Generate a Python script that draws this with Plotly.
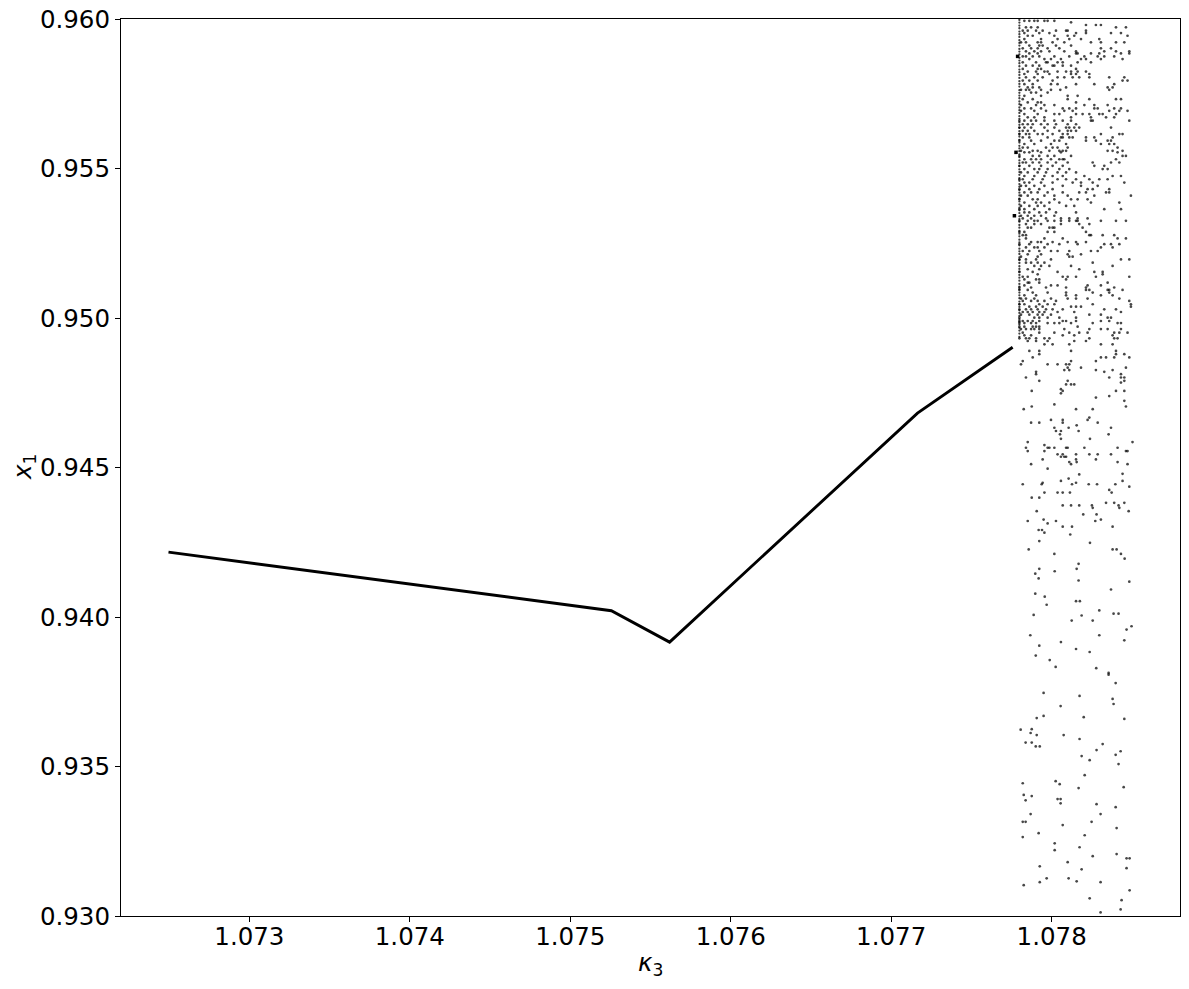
import plotly.graph_objects as go

# ---- main branch (period-1 curve) ----
kappa_line = [1.072496, 1.075256, 1.075619, 1.077164, 1.077757]
x1_line = [0.94217, 0.94021, 0.93916, 0.94682, 0.94902]

# ---- dense left edge column of the chaotic region ----
edge_kappa = 1.077799
edge_x1 = [0.95997, 0.95988, 0.95978, 0.95969, 0.95958, 0.95949, 0.95940, 0.95929, 0.95920, 0.95911,
           0.95900, 0.95891, 0.95882, 0.95870, 0.95861, 0.95852, 0.95842, 0.95831, 0.95822, 0.95813,
           0.95803, 0.95792, 0.95783, 0.95774, 0.95762, 0.95753, 0.95744, 0.95735, 0.95724, 0.95715,
           0.95704, 0.95695, 0.95686, 0.95675, 0.95666, 0.95655, 0.95646, 0.95636, 0.95625, 0.95616,
           0.95607, 0.95596, 0.95587, 0.95576, 0.95567, 0.95558, 0.95547, 0.95538, 0.95527, 0.95518,
           0.95508, 0.95497, 0.95488, 0.95479, 0.95468, 0.95459, 0.95448, 0.95439, 0.95428, 0.95419,
           0.95410, 0.95399, 0.95390, 0.95380, 0.95369, 0.95360, 0.95351, 0.95340, 0.95331, 0.95322,
           0.95311, 0.95302, 0.95291, 0.95282, 0.95273, 0.95262, 0.95253, 0.95243, 0.95232, 0.95223,
           0.95214, 0.95203, 0.95194, 0.95184, 0.95173, 0.95164, 0.95155, 0.95144, 0.95135, 0.95125,
           0.95114, 0.95105, 0.95096, 0.95085, 0.95076, 0.95066, 0.95055, 0.95046, 0.95037, 0.95026,
           0.95017, 0.95007, 0.94996, 0.94987, 0.94978, 0.94967, 0.94958, 0.94948, 0.94937]

# ---- heavier overlapping points near the edge ----
blob_kappa = [1.077788, 1.077778, 1.077768]
blob_x1 = [0.95875, 0.95554, 0.95342]

# ---- chaotic points, rows of (x1, [kappa values]) ----
chaos_rows_a = [
    (0.95994, [1.077830, 1.077861, 1.077892, 1.077913, 1.077955, 1.077975, 1.078017]),
    (0.95989, [1.078121]),
    (0.95980, [1.078214, 1.078276, 1.078307]),
    (0.95972, [1.077840, 1.077872, 1.077913, 1.078401, 1.078463]),
    (0.95961, [1.077820, 1.077851, 1.077903, 1.077944, 1.078027, 1.078090, 1.078100, 1.078214]),
    (0.95953, [1.077830, 1.077923, 1.077986, 1.078152, 1.078214, 1.078370, 1.078432]),
    (0.95944, [1.077851, 1.077882, 1.078017, 1.078100, 1.078141, 1.078473]),
    (0.95933, [1.077830, 1.077934, 1.078037, 1.078110, 1.078183, 1.078297]),
    (0.95922, [1.077809, 1.077840, 1.077913, 1.077934, 1.078006, 1.078079, 1.078245, 1.078307, 1.078401, 1.078453]),
    (0.95911, [1.077861, 1.077923, 1.077944, 1.078027, 1.078121]),
    (0.95902, [1.077820, 1.077872, 1.077913, 1.077975, 1.078048, 1.078307, 1.078370]),
    (0.95892, [1.077840, 1.077892, 1.077934, 1.077986, 1.078079, 1.078152, 1.078328, 1.078401, 1.078484]),
    (0.95885, [1.077861, 1.077913, 1.078152, 1.078162, 1.078245, 1.078297, 1.078432, 1.078484]),
    (0.95875, [1.077820, 1.077840, 1.077882, 1.077923, 1.078017, 1.078110, 1.078204, 1.078287, 1.078328, 1.078390]),
    (0.95866, [1.077861, 1.077955, 1.077996, 1.078058, 1.078183, 1.078214, 1.078307, 1.078442]),
    (0.95855, [1.077820, 1.077903, 1.077965, 1.077975, 1.078037, 1.078069, 1.078162, 1.078245]),
    (0.95844, [1.077840, 1.077882, 1.077923, 1.078006, 1.078017, 1.078069, 1.078121]),
    (0.95833, [1.077820, 1.077913, 1.077934, 1.078152]),
    (0.95824, [1.077851, 1.077903, 1.077955, 1.077975, 1.078037, 1.078090, 1.078121, 1.078162, 1.078214]),
    (0.95816, [1.077830, 1.077913, 1.077986, 1.078121, 1.078152, 1.078235]),
    (0.95805, [1.077840, 1.077892, 1.077944, 1.078037, 1.078079, 1.078131, 1.078172, 1.078235, 1.078359, 1.078453]),
    (0.95794, [1.077820, 1.077861, 1.077913, 1.078006, 1.078442, 1.078473]),
    (0.95782, [1.077830, 1.077882, 1.077996, 1.078037, 1.078152, 1.078266, 1.078390]),
    (0.95771, [1.077851, 1.077882, 1.077923, 1.078090, 1.078349, 1.078380]),
    (0.95763, [1.077809, 1.077840, 1.077861, 1.077934, 1.077996, 1.078054, 1.078359]),
    (0.95754, [1.077872, 1.077903, 1.077975]),
    (0.95743, [1.077830, 1.077934, 1.078100, 1.078162]),
    (0.95732, [1.077820, 1.077882, 1.078100, 1.078235, 1.078401, 1.078432]),
    (0.95721, [1.077851, 1.077913, 1.077934, 1.078152]),
    (0.95712, [1.077809, 1.077903, 1.077955, 1.078017, 1.078204, 1.078266, 1.078349]),
    (0.95701, [1.077830, 1.077872, 1.077934, 1.078069, 1.078110, 1.078152, 1.078266, 1.078287, 1.078390, 1.078432]),
    (0.95693, [1.077809, 1.077892, 1.077965, 1.078079, 1.078131, 1.078359, 1.078422, 1.078473]),
    (0.95682, [1.077830, 1.077913, 1.078017, 1.078048, 1.078152, 1.078193, 1.078235, 1.078297, 1.078318, 1.078401]),
    (0.95671, [1.077851, 1.077892, 1.077955, 1.078121, 1.078245, 1.078339, 1.078390]),
]

chaos_rows_b = [
    (0.95660, [1.077799, 1.077830, 1.077872, 1.077903, 1.077955, 1.078017, 1.078069, 1.078121, 1.078245, 1.078256, 1.078484]),
    (0.95648, [1.077820, 1.077851, 1.077882, 1.077934, 1.077975, 1.078027, 1.078100, 1.078152]),
    (0.95637, [1.077799, 1.077830, 1.077872, 1.077955, 1.078017, 1.078090, 1.078110, 1.078141, 1.078172, 1.078370]),
    (0.95626, [1.077820, 1.077851, 1.077892, 1.077975, 1.078048, 1.078100, 1.078121, 1.078152]),
    (0.95615, [1.077799, 1.077840, 1.077861, 1.077913, 1.077944, 1.078006, 1.078069, 1.078100, 1.078307, 1.078422, 1.078442]),
    (0.95604, [1.077820, 1.077861, 1.077975, 1.078058, 1.078069, 1.078110, 1.078131, 1.078214, 1.078266, 1.078380]),
    (0.95593, [1.077799, 1.077872, 1.077934, 1.078017, 1.078048, 1.078214, 1.078276, 1.078349, 1.078370]),
    (0.95582, [1.077830, 1.077892, 1.077996, 1.078090, 1.078307, 1.078359, 1.078390]),
    (0.95570, [1.077820, 1.077851, 1.077965, 1.078006, 1.078037, 1.078100, 1.078411]),
    (0.95559, [1.077809, 1.077882, 1.077913, 1.077986, 1.078048, 1.078069, 1.078090, 1.078349, 1.078380, 1.078442]),
    (0.95554, [1.077830, 1.077861, 1.077934, 1.078058, 1.078411]),
    (0.95542, [1.077799, 1.077882, 1.077923, 1.077975, 1.078017, 1.078121, 1.078442, 1.078463]),
    (0.95531, [1.077830, 1.077872, 1.077903, 1.077934, 1.077996, 1.078048, 1.078069, 1.078079, 1.078401]),
    (0.95520, [1.077820, 1.077840, 1.077882, 1.077923, 1.077975, 1.078027, 1.078100, 1.078256, 1.078370, 1.078422]),
    (0.95509, [1.077799, 1.077861, 1.077934, 1.078006, 1.078069, 1.078266, 1.078328]),
    (0.95498, [1.077830, 1.077892, 1.077923, 1.077975, 1.078048, 1.078110, 1.078318, 1.078349]),
    (0.95487, [1.077809, 1.077851, 1.077913, 1.077965, 1.078037, 1.078090, 1.078152]),
    (0.95475, [1.077830, 1.077892, 1.077955, 1.078006, 1.078069, 1.078204, 1.078380, 1.078432]),
    (0.95464, [1.077799, 1.077820, 1.077882, 1.077944, 1.078037, 1.078090, 1.078152, 1.078235, 1.078297, 1.078349]),
    (0.95453, [1.077830, 1.077861, 1.077934, 1.078006, 1.078131, 1.078183, 1.078256, 1.078453]),
    (0.95442, [1.077809, 1.077840, 1.077892, 1.077955, 1.078069, 1.078183, 1.078287]),
    (0.95431, [1.077799, 1.077861, 1.077923, 1.078006, 1.078224, 1.078256, 1.078359]),
    (0.95420, [1.077830, 1.077872, 1.077913, 1.077975, 1.078069, 1.078172, 1.078214, 1.078339, 1.078359]),
    (0.95409, [1.077809, 1.077851, 1.077955, 1.078017, 1.078100, 1.078266, 1.078494]),
    (0.95397, [1.077799, 1.077882, 1.077913, 1.078017, 1.078121, 1.078162, 1.078224]),
    (0.95386, [1.077830, 1.077903, 1.077934, 1.077986, 1.078048, 1.078245, 1.078422]),
    (0.95375, [1.077809, 1.077861, 1.077913, 1.077955, 1.078090, 1.078141]),
    (0.95364, [1.077799, 1.077830, 1.077892, 1.077986, 1.078328, 1.078432]),
    (0.95353, [1.077830, 1.077861, 1.077923, 1.077965, 1.078027, 1.078152]),
    (0.95342, [1.077809, 1.077851, 1.077892, 1.077934, 1.078017]),
    (0.95333, [1.077820, 1.077872, 1.077965, 1.078058, 1.078110, 1.078162, 1.078224]),
]

chaos_rows_c = [
    (0.95325, [1.077799, 1.077851, 1.077892, 1.077913, 1.077975, 1.078017, 1.078058, 1.078110, 1.078152, 1.078162, 1.078307, 1.078401, 1.078463]),
    (0.95314, [1.077840, 1.077892, 1.077934, 1.078058, 1.078172, 1.078235]),
    (0.95302, [1.077851, 1.077872, 1.077986, 1.078006, 1.078017, 1.078193]),
    (0.95288, [1.077799, 1.077830, 1.077975, 1.078017, 1.078214]),
    (0.95277, [1.077820, 1.077840, 1.078235, 1.078245, 1.078318, 1.078390]),
    (0.95266, [1.077840, 1.077955, 1.078069, 1.078411, 1.078463]),
    (0.95254, [1.077872, 1.077913, 1.077934, 1.078006, 1.078100, 1.078152, 1.078214]),
    (0.95247, [1.077799, 1.077861, 1.077975, 1.078048, 1.078162, 1.078328, 1.078370, 1.078422]),
    (0.95236, [1.077840, 1.077892, 1.077913, 1.077955, 1.078307, 1.078380]),
    (0.95224, [1.077820, 1.077861, 1.077923, 1.077996, 1.078037, 1.078110, 1.078245, 1.078287]),
    (0.95213, [1.077851, 1.077934, 1.078100, 1.078183]),
    (0.95205, [1.077809, 1.077913, 1.078110, 1.078131]),
    (0.95196, [1.077799, 1.077840, 1.077903, 1.077996, 1.078432, 1.078484]),
    (0.95185, [1.077840, 1.077872, 1.077913, 1.077955, 1.078256]),
    (0.95174, [1.077892, 1.077934, 1.077986, 1.078121, 1.078380]),
    (0.95163, [1.077851, 1.077923, 1.078172]),
    (0.95154, [1.077799, 1.077882, 1.078037, 1.078266, 1.078318]),
    (0.95146, [1.077913, 1.078318]),
    (0.95138, [1.077820, 1.077851, 1.078069, 1.078100, 1.078152, 1.078276, 1.078484]),
    (0.95129, [1.077830, 1.077903, 1.077923, 1.078090]),
    (0.95118, [1.077851, 1.077861, 1.077923, 1.078349]),
    (0.95109, [1.077830, 1.077996, 1.078037, 1.078224, 1.078307]),
    (0.95102, [1.077799, 1.077872, 1.077965, 1.078090, 1.078214, 1.078390]),
    (0.95094, [1.077799, 1.077851, 1.078214, 1.078235, 1.078349, 1.078359, 1.078442]),
    (0.95085, [1.077882, 1.077975, 1.078090, 1.078256, 1.078359]),
    (0.95076, [1.077830, 1.077903, 1.078090, 1.078152, 1.078307, 1.078380]),
    (0.95065, [1.077809, 1.077840, 1.077892, 1.077996, 1.078100, 1.078152, 1.078224, 1.078422]),
    (0.95057, [1.077820, 1.077872, 1.077913, 1.077955, 1.078027, 1.078484]),
    (0.95046, [1.077799, 1.077830, 1.077923, 1.077975, 1.078017, 1.078256, 1.078494]),
    (0.95038, [1.077861, 1.077903, 1.077944, 1.078121, 1.078152, 1.078183, 1.078494]),
    (0.95029, [1.077799, 1.077840, 1.077872, 1.077913, 1.077965, 1.078006, 1.078069, 1.078328, 1.078401]),
    (0.95020, [1.077820, 1.077851, 1.077882, 1.077923, 1.077955, 1.078037, 1.078141, 1.078432]),
    (0.95011, [1.077809, 1.077861, 1.077913, 1.077944, 1.077996, 1.078235, 1.078307]),
    (0.95001, [1.077799, 1.077892, 1.077923, 1.077975, 1.078048, 1.078152, 1.078349, 1.078370]),
]

chaos_rows_d = [
    (0.94990, [1.077799, 1.077820, 1.077851, 1.077882, 1.077923, 1.078069, 1.078090, 1.078152, 1.078307, 1.078359]),
    (0.94983, [1.077799, 1.077830, 1.077872, 1.077903, 1.077975, 1.078017, 1.078048, 1.078121, 1.078256, 1.078411, 1.078432]),
    (0.94971, [1.077799, 1.077830, 1.077882, 1.077903, 1.077923, 1.078162]),
    (0.94963, [1.077809, 1.077840, 1.077872, 1.077892, 1.077923, 1.078079, 1.078235, 1.078307, 1.078349, 1.078432]),
    (0.94951, [1.077820, 1.077923, 1.078017, 1.078110, 1.078172, 1.078224, 1.078390, 1.078422, 1.078473]),
    (0.94942, [1.077830, 1.077872, 1.078069, 1.078141, 1.078380]),
    (0.94932, [1.077799, 1.077840, 1.077861, 1.077903, 1.077955, 1.077986, 1.078235, 1.078390, 1.078411]),
    (0.94923, [1.077851, 1.077903, 1.077975, 1.078141, 1.078214]),
    (0.94912, [1.077955, 1.078006, 1.078110, 1.078307, 1.078380]),
    (0.94890, [1.077861, 1.077923, 1.078121, 1.078401]),
    (0.94879, [1.077923, 1.078401, 1.078453]),
    (0.94868, [1.077882, 1.078307, 1.078339, 1.078390, 1.078484]),
    (0.94856, [1.077820, 1.078121, 1.078276]),
    (0.94845, [1.077809, 1.077975, 1.078037, 1.078090, 1.078110]),
    (0.94834, [1.078100, 1.078183, 1.078463]),
    (0.94826, [1.078079, 1.078110, 1.078276, 1.078380]),
    (0.94820, [1.077903, 1.078328]),
    (0.94812, [1.077903, 1.078432]),
    (0.94801, [1.077840, 1.078359, 1.078432, 1.078453]),
    (0.94790, [1.077923, 1.078100, 1.078453]),
    (0.94784, [1.078432]),
    (0.94778, [1.078090, 1.078121, 1.078141]),
    (0.94762, [1.078058]),
    (0.94756, [1.077876, 1.078069, 1.078401, 1.078453]),
    (0.94748, [1.078058]),
    (0.94739, [1.078359]),
    (0.94734, [1.078276]),
    (0.94723, [1.078453]),
    (0.94711, [1.078017]),
    (0.94704, [1.077876, 1.078463]),
    (0.94695, [1.077826, 1.078152, 1.078256]),
    (0.94667, [1.078235]),
    (0.94659, [1.077996, 1.078069, 1.078224]),
    (0.94650, [1.077872, 1.077923, 1.078069, 1.078287]),
    (0.94641, [1.078156]),
    (0.94633, [1.078017, 1.078106, 1.078370]),
    (0.94622, [1.078027, 1.078058, 1.078168]),
    (0.94611, [1.078052, 1.078355]),
    (0.94596, [1.078058, 1.078239]),
    (0.94585, [1.077851, 1.078504]),
    (0.94575, [1.077955]),
    (0.94566, [1.077840, 1.077975, 1.077986, 1.078017, 1.078090, 1.078100, 1.078204, 1.078411]),
    (0.94555, [1.077851, 1.077955, 1.078463, 1.078473]),
    (0.94544, [1.078037, 1.078069, 1.078152, 1.078235, 1.078287, 1.078370]),
    (0.94536, [1.078058, 1.078079, 1.078090]),
    (0.94527, [1.077944, 1.078152, 1.078276]),
    (0.94518, [1.078110, 1.078156, 1.078411]),
    (0.94511, [1.077872, 1.078121, 1.078473]),
    (0.94496, [1.077975]),
    (0.94479, [1.078442]),
    (0.94477, [1.078172]),
    (0.94463, [1.078106]),
    (0.94455, [1.078058, 1.078442]),
    (0.94449, [1.077944, 1.078152]),
    (0.94444, [1.077820, 1.077938, 1.078127, 1.078231, 1.078283, 1.078397]),
    (0.94436, [1.078484]),
    (0.94425, [1.078359]),
    (0.94416, [1.077955, 1.078037, 1.078069, 1.078114, 1.078374]),
    (0.94399, [1.077876, 1.077923]),
    (0.94382, [1.078339, 1.078390, 1.078453]),
    (0.94373, [1.078069, 1.078121, 1.078172, 1.078251, 1.078417]),
    (0.94365, [1.078256, 1.078422]),
    (0.94354, [1.077907, 1.078480]),
    (0.94343, [1.078197, 1.078280]),
    (0.94326, [1.077950, 1.078307]),
    (0.94321, [1.077851, 1.078027, 1.078272]),
    (0.94313, [1.077975]),
    (0.94302, [1.078069, 1.078127, 1.078380]),
    (0.94291, [1.077919, 1.077940]),
    (0.94282, [1.077955]),
    (0.94276, [1.078116]),
    (0.94254, [1.077923]),
    (0.94248, [1.078239]),
    (0.94226, [1.077857, 1.078380, 1.078405]),
    (0.94211, [1.078017, 1.078432]),
    (0.94195, [1.078455]),
    (0.94178, [1.078168]),
    (0.94161, [1.077923, 1.078156]),
    (0.94153, [1.078019]),
    (0.94145, [1.077898]),
    (0.94129, [1.077919]),
    (0.94122, [1.078168]),
    (0.94118, [1.078484]),
    (0.94092, [1.078370]),
    (0.94078, [1.077898]),
    (0.94068, [1.077957]),
    (0.94053, [1.078152, 1.078176]),
    (0.94041, [1.077969]),
    (0.94022, [1.078297]),
    (0.94011, [1.078386, 1.078417]),
    (0.94007, [1.077888]),
    (0.94005, [1.078187]),
]

chaos_rows_e = [
    (0.93988, [1.078125, 1.078256]),
    (0.93969, [1.078498]),
    (0.93958, [1.078467]),
    (0.93939, [1.077867, 1.078297]),
    (0.93922, [1.078453]),
    (0.93916, [1.078058]),
    (0.93904, [1.077923]),
    (0.93893, [1.078152]),
    (0.93883, [1.078237]),
    (0.93871, [1.077901]),
    (0.93856, [1.077988]),
    (0.93833, [1.078025]),
    (0.93829, [1.078278]),
    (0.93813, [1.078355]),
    (0.93807, [1.078355]),
    (0.93779, [1.078399]),
    (0.93746, [1.077950]),
    (0.93736, [1.078174]),
    (0.93726, [1.078380]),
    (0.93709, [1.078386]),
    (0.93702, [1.078056]),
    (0.93669, [1.077950]),
    (0.93665, [1.078200]),
    (0.93662, [1.077907]),
    (0.93659, [1.078453]),
    (0.93625, [1.077876]),
    (0.93623, [1.077807]),
    (0.93612, [1.077869]),
    (0.93605, [1.077907, 1.078075]),
    (0.93592, [1.078174]),
    (0.93580, [1.077838, 1.077876]),
    (0.93575, [1.078318]),
    (0.93567, [1.077901, 1.077926]),
    (0.93555, [1.078280]),
    (0.93551, [1.078430]),
    (0.93539, [1.078399]),
    (0.93535, [1.078187]),
    (0.93521, [1.078237]),
    (0.93508, [1.078417]),
    (0.93471, [1.078206]),
    (0.93451, [1.078025]),
    (0.93444, [1.077820]),
    (0.93441, [1.078050]),
    (0.93431, [1.078449]),
    (0.93428, [1.078168]),
    (0.93405, [1.077826]),
    (0.93401, [1.077876]),
    (0.93391, [1.078037, 1.078056]),
    (0.93387, [1.077838]),
    (0.93377, [1.078056]),
    (0.93374, [1.078280]),
    (0.93364, [1.078399]),
    (0.93341, [1.077869, 1.078305]),
    (0.93315, [1.077820, 1.077838, 1.078249]),
    (0.93304, [1.078069]),
    (0.93294, [1.078405]),
    (0.93277, [1.077919]),
    (0.93270, [1.078206]),
    (0.93264, [1.077820]),
    (0.93243, [1.078019]),
    (0.93230, [1.078174]),
    (0.93220, [1.078019]),
    (0.93207, [1.078405]),
    (0.93200, [1.078256]),
    (0.93193, [1.078467, 1.078486]),
    (0.93180, [1.078100]),
    (0.93166, [1.077926]),
    (0.93160, [1.078467]),
    (0.93156, [1.078187]),
    (0.93126, [1.077969, 1.078106]),
    (0.93116, [1.078156]),
    (0.93113, [1.077926, 1.078305]),
    (0.93103, [1.077826]),
    (0.93086, [1.078486]),
    (0.93059, [1.078237]),
    (0.93053, [1.078436]),
    (0.93022, [1.078430]),
    (0.93012, [1.078305]),
]

# ---- axes ----
x_range = [1.0722, 1.0788]
y_range = [0.930, 0.960]
x_ticks = [1.073, 1.074, 1.075, 1.076, 1.077, 1.078]
y_ticks = [0.930, 0.935, 0.940, 0.945, 0.950, 0.955, 0.960]
x_title = "<i>κ</i><sub>3</sub>"
y_title = "<i>x</i><sub>1</sub>"

chaos_kappa, chaos_x1 = [], []
for rows in (chaos_rows_a, chaos_rows_b, chaos_rows_c, chaos_rows_d, chaos_rows_e):
    for level, ks in rows:
        for k in ks:
            chaos_kappa.append(k)
            chaos_x1.append(level)

FONT = "DejaVu Sans, Arial, sans-serif"
FS = 24.5
fig = go.Figure()
fig.add_trace(go.Scatter(
    x=[edge_kappa] * len(edge_x1), y=edge_x1, mode="markers",
    marker=dict(size=2.3, color="rgba(0,0,0,0.75)", line=dict(width=0)),
    showlegend=False, hoverinfo="skip"))
fig.add_trace(go.Scatter(
    x=chaos_kappa, y=chaos_x1, mode="markers",
    marker=dict(size=2.7, color="rgba(0,0,0,0.72)", line=dict(width=0)),
    showlegend=False, hoverinfo="skip"))
fig.add_trace(go.Scatter(
    x=blob_kappa, y=blob_x1, mode="markers",
    marker=dict(size=3.5, symbol="square", color="black", line=dict(width=0)),
    showlegend=False, hoverinfo="skip"))
fig.add_trace(go.Scatter(
    x=kappa_line, y=x1_line, mode="lines",
    line=dict(color="black", width=2.9),
    showlegend=False, hoverinfo="skip"))

axis_common = dict(
    showgrid=False, zeroline=False, showline=True, mirror=True,
    linecolor="black", linewidth=1.1, ticks="outside", ticklen=5,
    tickwidth=1.1, tickcolor="black", automargin=False,
    ticklabeloverflow="allow",
    tickfont=dict(family=FONT, size=FS, color="black"),
)
fig.update_xaxes(range=x_range, tickvals=x_ticks, tickformat=".3f",
                 ticklabelstandoff=-6, **axis_common)
fig.update_yaxes(range=y_range, tickvals=y_ticks, tickformat=".3f",
                 **axis_common)

# axis titles placed as annotations (paper coordinates)
fig.add_annotation(text=x_title, xref="paper", yref="paper", x=0.5, y=-0.054,
                   xanchor="center", yanchor="middle", showarrow=False,
                   font=dict(family=FONT, size=FS, color="black"))
fig.add_annotation(text=y_title, xref="paper", yref="paper", x=-0.092, y=0.5,
                   xanchor="center", yanchor="middle", showarrow=False, textangle=-90,
                   font=dict(family=FONT, size=FS, color="black"))

fig.update_layout(
    width=1173, height=973,
    margin=dict(l=113, r=1, t=11, b=65),
    paper_bgcolor="white", plot_bgcolor="white",
    font=dict(family=FONT, color="black"),
)
fig.write_html("out.html")
